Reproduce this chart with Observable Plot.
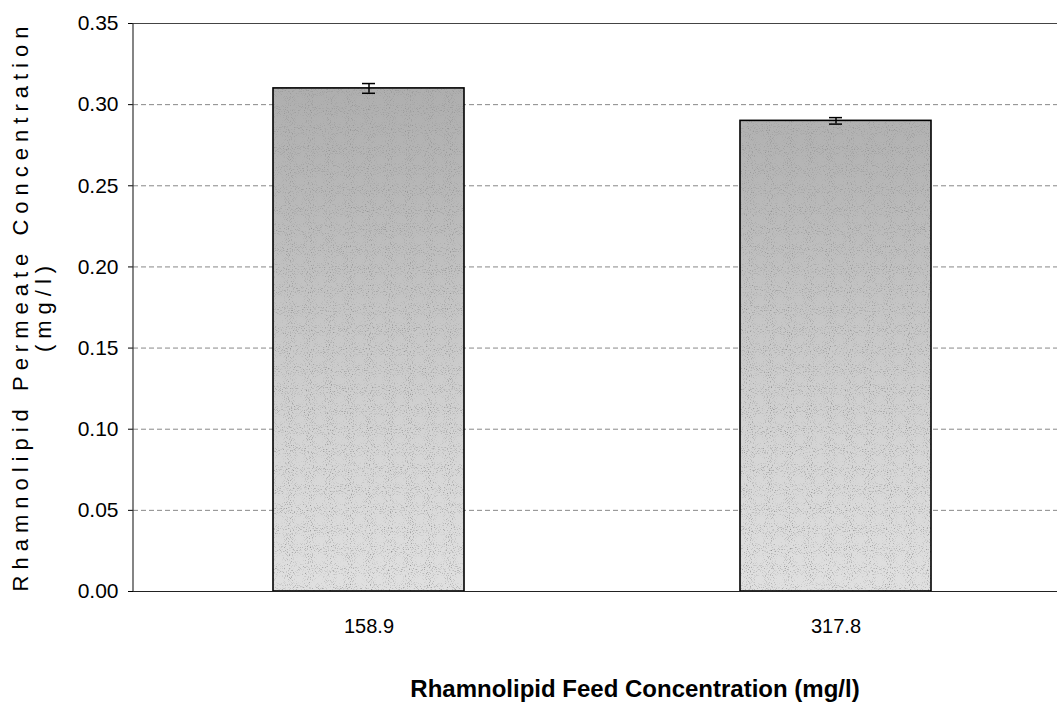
<!DOCTYPE html>
<html><head><meta charset="utf-8">
<script src="https://cdn.jsdelivr.net/npm/d3@7"></script>
<script src="https://cdn.jsdelivr.net/npm/@observablehq/plot@0.6"></script>
<style>body{margin:0;background:#fff} svg{display:block}</style>
</head><body><div id="chart"></div>
<script>
const categories = ["158.9", "317.8"];
const values = [0.31, 0.29];
const errors = [0.003, 0.002];
const yTicks = [0, 0.05, 0.10, 0.15, 0.20, 0.25, 0.30, 0.35];
const yTitle1 = "Rhamnolipid Permeate Concentration";
const yTitle2 = "(mg/l)";
const xTitle = "Rhamnolipid Feed Concentration (mg/l)";

const data = categories.map((c, i) => ({c, v: values[i], lo: values[i] - errors[i], hi: values[i] + errors[i]}));
const W = 1057, H = 703, ML = 133, MT = 23, MB = 112;
const FONT = "'Liberation Sans', Arial, sans-serif";

const plot = Plot.plot({
  width: W, height: H,
  marginLeft: ML, marginRight: 0, marginTop: MT, marginBottom: MB,
  style: {fontFamily: FONT, fontSize: "21px", color: "#000", background: "#fff", overflow: "visible"},
  x: {domain: categories, range: [ML, 1072], paddingInner: 0.59, paddingOuter: 0.3, label: null},
  y: {domain: [0, 0.35], label: null},
  marks: [
    Plot.ruleY(yTicks.filter(t => t > 0 && t < 0.35), {stroke: "#888", strokeWidth: 1, strokeDasharray: "5,3"}),
    Plot.ruleY([0.35], {stroke: "#444", strokeWidth: 1}),
    Plot.barY(data, {x: "c", y: "v", fill: "url(#barGrad)", stroke: "none"}),
    Plot.barY(data, {x: "c", y: "v", fill: "none", stroke: "#000", strokeWidth: 1.6}),
    Plot.ruleX(data, {x: "c", y1: "lo", y2: "hi", stroke: "#000", strokeWidth: 1.5}),
    Plot.tickY(data, {x: "c", y: "hi", stroke: "#000", strokeWidth: 1.5, insetLeft: 89, insetRight: 89}),
    Plot.tickY(data, {x: "c", y: "lo", stroke: "#000", strokeWidth: 1.5, insetLeft: 89, insetRight: 89}),
    Plot.ruleY([0], {stroke: "#222", strokeWidth: 1.2}),
    Plot.axisY({ticks: yTicks, tickFormat: d3.format(".2f"), tickSize: 5, tickPadding: 10, label: null, fontSize: 21}),
    Plot.axisX({tickSize: 0, tickPadding: 27, label: null, fontSize: 20})
  ]
});

const svg = d3.select(plot);
const y = plot.scale("y");
const defs = svg.insert("defs", ":first-child");
const g = defs.append("linearGradient").attr("id", "barGrad")
  .attr("gradientUnits", "userSpaceOnUse")
  .attr("x1", 0).attr("x2", 0).attr("y1", y.apply(0.35)).attr("y2", y.apply(0));
[[0, "#a9a9a9"], [0.3, "#b8b8b8"], [0.55, "#c8c8c8"], [0.75, "#d5d5d5"], [1, "#e0e0e0"]]
  .forEach(([o, c]) => g.append("stop").attr("offset", o).attr("stop-color", c));

// stipple texture filter for the bar fill
const f = defs.append("filter").attr("id", "stipple")
  .attr("x", 0).attr("y", 0).attr("width", 1).attr("height", 1);
f.append("feTurbulence").attr("type", "fractalNoise").attr("baseFrequency", 0.95)
  .attr("numOctaves", 1).attr("seed", 7).attr("result", "noise");
f.append("feColorMatrix").attr("in", "noise").attr("type", "matrix")
  .attr("values", "0 0 0 0 0.3  0 0 0 0 0.3  0 0 0 0 0.3  4 0 0 0 -2.2").attr("result", "dots");
f.append("feComposite").attr("in", "dots").attr("in2", "SourceAlpha").attr("operator", "in").attr("result", "dotsClip");
const m = f.append("feMerge");
m.append("feMergeNode").attr("in", "SourceGraphic");
m.append("feMergeNode").attr("in", "dotsClip");

svg.selectAll("g[aria-label='bar']").filter((d, i) => i === 0).attr("filter", "url(#stipple)");

// left axis line
svg.append("line").attr("x1", ML).attr("x2", ML)
  .attr("y1", y.apply(0.35)).attr("y2", y.apply(0))
  .attr("stroke", "#333").attr("stroke-width", 1.2);

// y title (two lines)
const cy = 306;
[[yTitle1, 20], [yTitle2, 43]].forEach(([t, x]) => {
  svg.append("text").text(t)
    .attr("transform", `translate(${x},${cy}) rotate(-90)`)
    .attr("text-anchor", "middle").attr("dominant-baseline", "central")
    .attr("font-family", FONT).attr("font-size", 22).attr("letter-spacing", "6px")
    .attr("fill", "#000");
});

// x title
svg.append("text").text(xTitle)
  .attr("x", 635).attr("y", 697)
  .attr("text-anchor", "middle")
  .attr("font-family", FONT).attr("font-size", 24).attr("font-weight", "bold")
  .attr("fill", "#000");

document.getElementById("chart").appendChild(plot);
</script>
</body></html>
